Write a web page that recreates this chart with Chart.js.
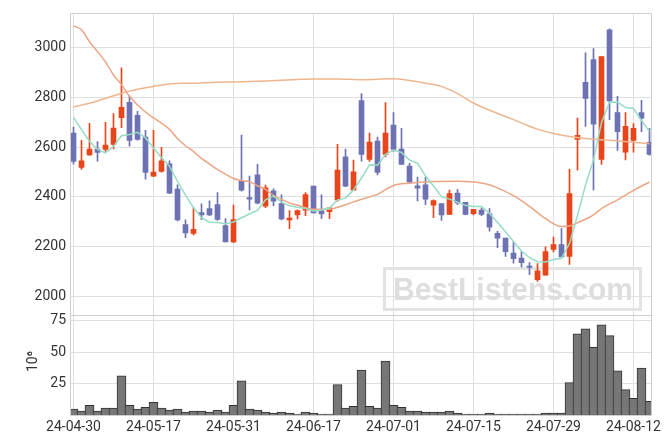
<!DOCTYPE html>
<html><head><meta charset="utf-8">
<script src="https://cdn.jsdelivr.net/npm/chart.js@4.4.1/dist/chart.umd.min.js"></script>
<style>html,body{margin:0;padding:0;background:#fff;}canvas{display:block;}</style>
</head><body>
<canvas id="c" width="671" height="444"></canvas>
<script>
const dates = ['24-04-30','24-05-02','24-05-03','24-05-07','24-05-08','24-05-09','24-05-10','24-05-13','24-05-14','24-05-16','24-05-17','24-05-20','24-05-21','24-05-22','24-05-23','24-05-24','24-05-27','24-05-28','24-05-29','24-05-30','24-05-31','24-06-03','24-06-04','24-06-05','24-06-07','24-06-10','24-06-11','24-06-12','24-06-13','24-06-14','24-06-17','24-06-18','24-06-19','24-06-20','24-06-21','24-06-24','24-06-25','24-06-26','24-06-27','24-06-28','24-07-01','24-07-02','24-07-03','24-07-04','24-07-05','24-07-08','24-07-09','24-07-10','24-07-11','24-07-12','24-07-15','24-07-16','24-07-17','24-07-18','24-07-19','24-07-22','24-07-23','24-07-24','24-07-25','24-07-26','24-07-29','24-07-30','24-07-31','24-08-01','24-08-02','24-08-05','24-08-06','24-08-07','24-08-08','24-08-09','24-08-12','24-08-13','24-08-14'];
const openP  = [2657,2519,2569,2593,2591,2611,2719,2781,2729,2641,2483,2503,2533,2431,2289,2253,2337,2353,2369,2285,2219,2463,2397,2489,2363,2424,2373,2307,2327,2347,2444,2345,2341,2388,2561,2427,2788,2551,2625,2571,2689,2593,2524,2445,2449,2367,2373,2329,2415,2378,2332,2347,2332,2253,2234,2174,2154,2121,2067,2085,2188,2208,2160,2631,2861,2953,2551,3073,2740,2580,2627,2740,2620];
const highP  = [2681,2628,2696,2623,2700,2736,2920,2807,2745,2668,2668,2600,2545,2449,2308,2356,2372,2384,2417,2313,2367,2649,2484,2531,2448,2432,2408,2345,2348,2417,2444,2408,2356,2612,2593,2548,2816,2657,2641,2780,2740,2676,2535,2480,2479,2388,2373,2427,2430,2378,2350,2356,2353,2261,2234,2219,2180,2135,2131,2199,2238,2272,2511,2717,2980,2997,2965,3077,2805,2740,2695,2789,2676];
const lowP   = [2532,2511,2567,2544,2583,2593,2679,2604,2628,2471,2481,2500,2413,2303,2236,2247,2308,2324,2305,2219,2216,2423,2348,2372,2357,2364,2307,2272,2311,2324,2335,2312,2312,2383,2441,2427,2544,2543,2489,2561,2583,2531,2459,2384,2369,2316,2305,2329,2369,2327,2327,2324,2262,2196,2160,2133,2118,2087,2060,2085,2178,2158,2128,2508,2684,2428,2531,2711,2587,2549,2580,2663,2568];
const closeP = [2543,2545,2593,2579,2609,2677,2761,2627,2631,2499,2500,2545,2415,2307,2255,2269,2327,2327,2309,2219,2309,2427,2391,2375,2437,2383,2311,2315,2345,2409,2335,2331,2356,2508,2443,2501,2571,2621,2499,2657,2591,2531,2459,2435,2391,2385,2327,2413,2376,2329,2350,2329,2278,2234,2179,2151,2135,2116,2102,2180,2208,2158,2413,2648,2797,2693,2965,2787,2663,2684,2676,2717,2571];
const volume = [4.7,3.1,7.8,3.1,5.5,5.5,31.2,7.8,4.7,6.2,10.2,5.5,3.9,4.7,2.3,3.1,3.1,2.3,3.9,2.3,7.8,27.3,4.7,3.9,2.3,1.6,2.3,1.6,0.8,2.3,1.6,0.8,0.8,24.2,5.5,7.0,35.9,7.0,5.5,43.0,7.8,6.2,3.1,3.1,2.3,2.3,2.3,3.1,1.6,0.8,0.8,0.8,1.6,0.8,0.8,0.8,0.8,0.8,0.8,1.6,1.6,1.6,25.8,64.8,68.7,53.9,71.9,63.3,35.2,20.3,13.3,37.5,10.9];
const ma5 = [2720,2671,2624,2591,2577,2603,2646,2651,2660,2638,2597,2558,2524,2462,2407,2357,2316,2298,2297,2292,2299,2316,2331,2346,2388,2403,2379,2364,2358,2353,2343,2347,2355,2388,2395,2428,2476,2529,2528,2571,2589,2579,2548,2536,2484,2444,2401,2391,2379,2366,2361,2361,2333,2298,2260,2220,2182,2155,2139,2138,2148,2153,2212,2325,2448,2548,2700,2781,2782,2760,2756,2708,2663];
const ma20 = [[0,3089],[1,3073],[2,3025],[3,2985],[4,2944],[5,2891],[6,2852],[7,2805],[8,2770],[9,2742],[10,2718],[11,2697],[12,2672],[13,2635],[14,2606],[15,2583],[16,2555],[17,2532],[18,2510],[19,2492],[20,2474],[21,2466],[22,2461],[23,2445],[24,2430],[25,2406],[26,2390],[27,2376],[28,2366],[30,2350],[32,2350],[33,2358],[35,2380],[37,2400],[38,2410],[40,2446],[42,2455],[45,2462],[48,2463],[50,2460],[52,2449],[53,2436],[55,2405],[57,2362],[59,2313],[61,2281],[62,2283],[63,2296],[65,2328],[66,2353],[68,2388],[70,2426],[72,2460]];
const ma60 = [[0,2762],[2,2777],[5,2807],[7,2826],[10,2845],[12,2855],[15,2858],[18,2862],[20,2863],[24,2867],[28,2873],[30,2875],[33,2875],[36,2872],[40,2876],[42,2869],[44,2858],[46,2845],[48,2816],[50,2778],[52,2749],[54,2724],[56,2698],[58,2673],[60,2655],[62,2643],[64,2635],[67,2628],[70,2620],[72,2614]];
const priceTicks = [2000,2200,2400,2600,2800,3000];
const volumeTicks = [25,50,75];
const dateTickIdx = [0,10,20,30,40,50,60,70];
const volumeTitle = '  10\u2076';
const watermark = 'BestListens.com';

const UP = '#E8461A', DOWN = '#6D72B3';
const GRID = '#e0e0e0';
const idx = dates.map((d,i)=>i);
const candleColor = c => closeP[c.dataIndex] >= openP[c.dataIndex] ? UP : DOWN;

Chart.defaults.font.family = 'Roboto, "Liberation Sans", sans-serif';
Chart.defaults.font.size = 14;
Chart.defaults.color = '#333';

const decor = {
  id: 'decor',
  beforeDatasetsDraw(chart) {
    const ctx = chart.ctx, a = chart.chartArea, ys = chart.scales.y;
    ctx.save();
    // watermark
    ctx.strokeStyle = '#e3e3e3';
    ctx.lineWidth = 3;
    ctx.strokeRect(384.5, 268.5, 256, 41);
    ctx.fillStyle = '#dedede';
    ctx.font = 'bold 32px "Liberation Sans", Arial, sans-serif';
    ctx.textBaseline = 'alphabetic';
    ctx.fillText(watermark, 393, 300, 240);
    // frame
    ctx.strokeStyle = '#cfcfcf';
    ctx.lineWidth = 1;
    ctx.beginPath();
    const l = Math.round(a.left) - 0.5, r = Math.round(a.right) + 0.5;
    const t = Math.round(a.top) + 0.5, b = Math.round(a.bottom) + 0.5;
    const s = Math.round(ys.bottom) + 0.5;
    ctx.moveTo(l, t); ctx.lineTo(r, t); ctx.lineTo(r, b); ctx.lineTo(l, b); ctx.closePath();
    ctx.moveTo(l, s); ctx.lineTo(r, s);
    ctx.stroke();
    ctx.restore();
  }
};

new Chart(document.getElementById('c'), {
  type: 'bar',
  data: {
    datasets: [
      { type: 'line', label: 'MA5', data: idx.map(i => ({x: i, y: ma5[i]})), yAxisID: 'y',
        borderColor: '#96DCC6', borderWidth: 1.5, pointRadius: 0, tension: 0, order: 1 },
      { type: 'line', label: 'MA20', data: ma20.map(p => ({x: p[0], y: p[1]})), yAxisID: 'y',
        borderColor: '#EBA585', borderWidth: 1.5, pointRadius: 0, cubicInterpolationMode: 'monotone', order: 2 },
      { type: 'line', label: 'MA60', data: ma60.map(p => ({x: p[0], y: p[1]})), yAxisID: 'y',
        borderColor: '#EFB68E', borderWidth: 1.5, pointRadius: 0, cubicInterpolationMode: 'monotone', order: 2 },
      { label: 'wick', data: idx.map(i => ({x: i, y: [lowP[i], highP[i]]})), yAxisID: 'y',
        backgroundColor: candleColor, barThickness: 1, grouped: false, order: 6 },
      { label: 'body', data: idx.map(i => ({x: i, y: [openP[i], closeP[i]]})), yAxisID: 'y',
        backgroundColor: candleColor, barThickness: 5, minBarLength: 1, grouped: false, order: 5 },
      { label: 'volume', data: idx.map(i => ({x: i, y: volume[i]})), yAxisID: 'yv',
        backgroundColor: '#777777', borderColor: '#333333', borderWidth: 1, barThickness: 9, grouped: false, order: 7 }
    ]
  },
  options: {
    responsive: false,
    animation: false,
    events: [],
    layout: { padding: { top: 9, right: 20, left: 0, bottom: 0 } },
    plugins: { legend: { display: false }, tooltip: { enabled: false } },
    scales: {
      x: {
        type: 'linear', min: -0.3125, max: 72.1875, offset: false,
        grid: { color: GRID, drawTicks: false, offset: false },
        border: { display: false },
        afterBuildTicks: s => { s.ticks = dateTickIdx.map(v => ({value: v})); },
        afterFit: s => { s.height = 29; },
        ticks: { autoSkip: false, maxRotation: 0, padding: 4, color: '#333',
                 callback: v => dates[v] }
      },
      y: {
        type: 'linear', position: 'left', stack: 'panels', stackWeight: 305, weight: 2,
        min: 1924, max: 3139, beginAtZero: false,
        grid: { color: GRID, drawTicks: false },
        border: { display: false },
        afterBuildTicks: s => { s.ticks = priceTicks.map(v => ({value: v})); },
        afterFit: s => { s.width = 71; },
        ticks: { padding: 5, color: '#333', callback: v => String(v) }
      },
      yv: {
        type: 'linear', position: 'left', stack: 'panels', stackWeight: 101, weight: 1,
        min: 0, max: 79.7,
        grid: { color: GRID, drawTicks: false },
        border: { display: false },
        afterBuildTicks: s => { s.ticks = volumeTicks.map(v => ({value: v})); },
        afterFit: s => { s.width = 71; },
        ticks: { padding: 5, color: '#333', callback: v => String(v) },
        title: { display: true, text: volumeTitle, color: '#333', font: { size: 14 }, padding: { top: 25, bottom: 0 } }
      }
    }
  },
  plugins: [decor]
});
</script>
</body></html>
